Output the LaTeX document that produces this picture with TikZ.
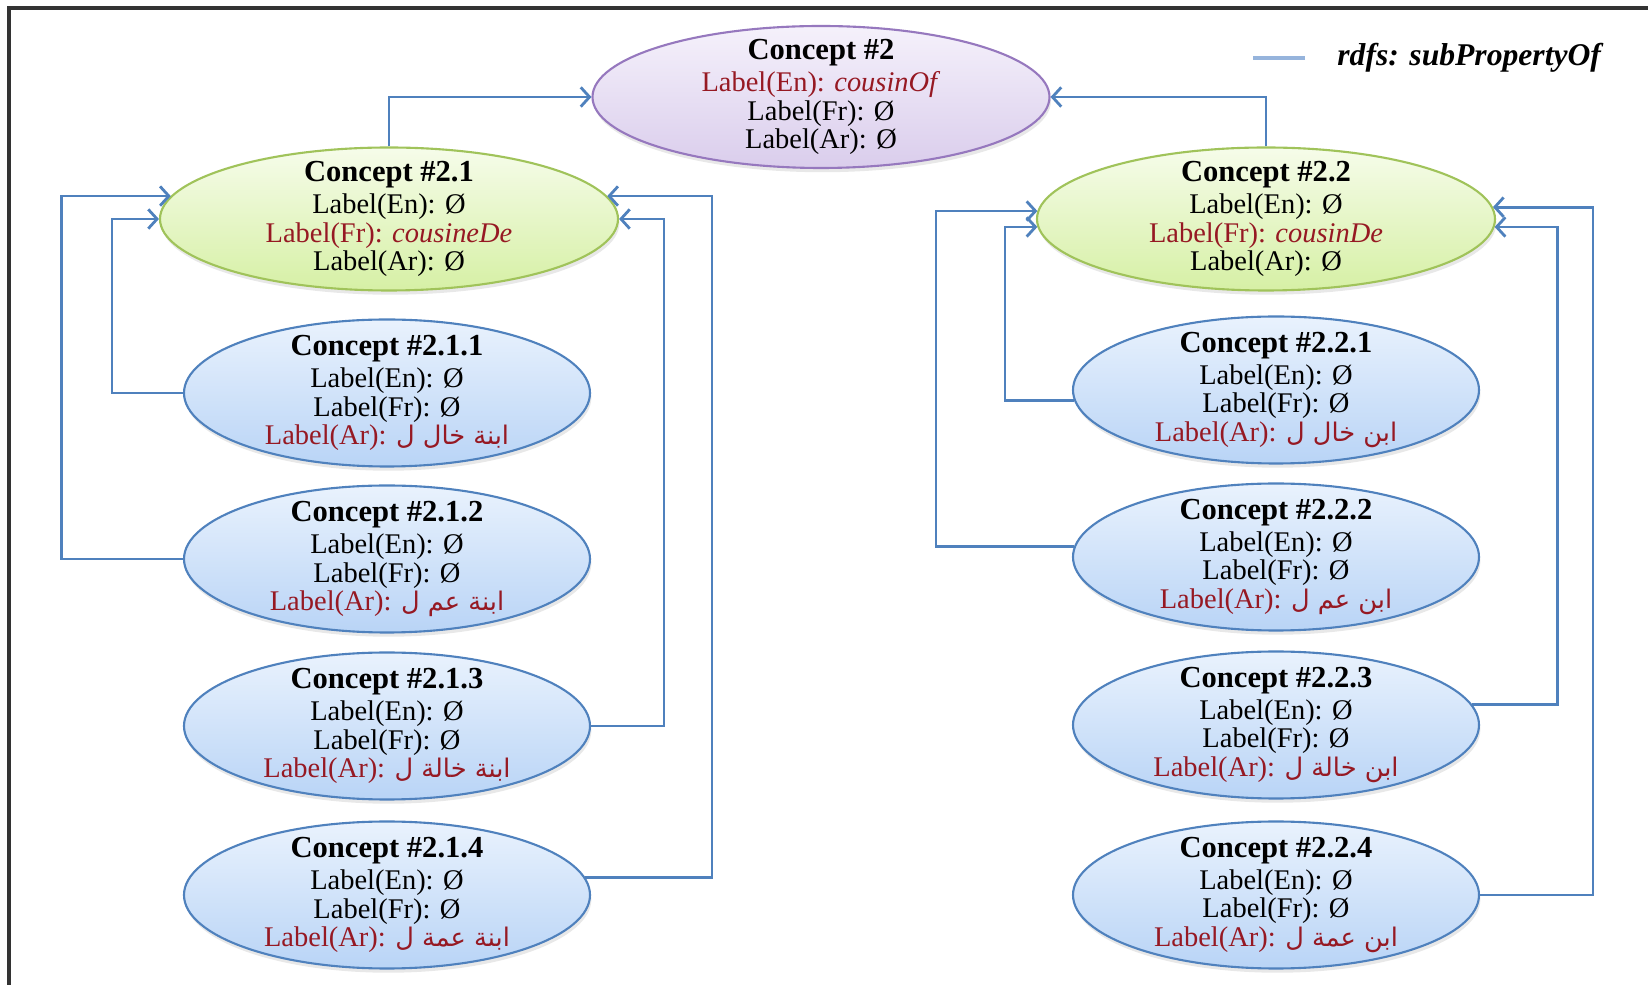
\documentclass[tikz,border=0pt]{standalone}
\usepackage{fontspec}
\setmainfont{Liberation Serif}
\newfontfamily\arabicfont[Script=Arabic]{DejaVu Sans}
\TeXXeTstate=1
\usepackage{tikz}
\usetikzlibrary{arrows.meta, shapes.geometric, shadows}
\definecolor{lblred}{RGB}{150,25,35}
\definecolor{link}{RGB}{79,129,189}
\definecolor{legendline}{RGB}{150,180,220}
\definecolor{purpline}{RGB}{150,120,190}
\definecolor{purptop}{RGB}{245,241,251}
\definecolor{purpbot}{RGB}{218,205,236}
\definecolor{greenline}{RGB}{160,195,90}
\definecolor{greentop}{RGB}{246,252,234}
\definecolor{greenbot}{RGB}{214,240,165}
\definecolor{blueline}{RGB}{79,129,189}
\definecolor{bluetop}{RGB}{233,242,253}
\definecolor{bluebot}{RGB}{185,212,246}
\newcommand{\ctitle}[1]{{\fontsize{8.7}{8.2}\selectfont\bfseries Concept \##1}}
\newcommand{\arlabel}[1]{{\color{lblred}Label(Ar): {\arabicfont\fontsize{7.3}{8.2}\selectfont\beginR #1\endR}}}

\begin{document}
\begin{tikzpicture}[
    base/.style={ellipse, line width=0.6pt, inner xsep=0pt, inner ysep=-0.4cm, align=center,
        font=\fontsize{8.1}{8.2}\selectfont,
        drop shadow={opacity=0.18, shadow xshift=0.4pt, shadow yshift=-1.2pt}},
    root/.style={base, draw=purpline, top color=purptop, bottom color=purpbot,
        minimum width=4.57cm, minimum height=1.42cm},
    mid/.style={base, draw=greenline, top color=greentop, bottom color=greenbot,
        minimum width=4.58cm, minimum height=1.43cm},
    leaf/.style={base, draw=blueline, top color=bluetop, bottom color=bluebot,
        minimum width=4.06cm, minimum height=1.47cm},
    arr/.style={draw=link, line width=0.8pt, -{Straight Barb[length=2.5pt,width=5.5pt]}}
]
    \useasboundingbox (0,0) rectangle (16.48,-9.85);
    % frame
    \draw[line width=1pt, black!80] (0.09,-9.85) -- (0.09,-0.08) -- (16.48,-0.08);

    % legend
    \node[anchor=west, font=\fontsize{9}{10}\selectfont\bfseries\itshape] (legend) at (13.25,-0.58) {rdfs: subPropertyOf};
    \draw[legendline, line width=1pt] ([xshift=-0.2cm]legend.west) -- ++(-0.52,0);

    % top concept
    \node[root] (c2) at (8.21,-0.97) {\ctitle{2}\\[0.9pt]
        {\color{lblred}Label(En): \textit{cousinOf}}\\ Label(Fr): Ø\\ Label(Ar): Ø};

    % Left: feminine
    \node[mid] (c21) at (3.89,-2.19) {\ctitle{2.1}\\[0.9pt]
        Label(En): Ø\\ {\color{lblred}Label(Fr): \textit{cousineDe}}\\ Label(Ar): Ø};
    \foreach \n/\y/\txt in {1/-3.93/{ابنة خال ل}, 2/-5.59/{ابنة عم ل}, 3/-7.26/{ابنة خالة ل}, 4/-8.95/{ابنة عمة ل}} {
        \node[leaf] (c21\n) at (3.87,\y) {\ctitle{2.1.\n}\\[0.9pt]
            Label(En): Ø\\ Label(Fr): Ø\\ \arlabel{\txt}};
    }

    % Right: masculine
    \node[mid] (c22) at (12.66,-2.19) {\ctitle{2.2}\\[0.9pt]
        Label(En): Ø\\ {\color{lblred}Label(Fr): \textit{cousinDe}}\\ Label(Ar): Ø};
    \foreach \n/\y/\txt in {1/-3.90/{ابن خال ل}, 2/-5.57/{ابن عم ل}, 3/-7.25/{ابن خالة ل}, 4/-8.95/{ابن عمة ل}} {
        \node[leaf] (c22\n) at (12.76,\y) {\ctitle{2.2.\n}\\[0.9pt]
            Label(En): Ø\\ Label(Fr): Ø\\ \arlabel{\txt}};
    }

    % subPropertyOf links
    \draw[arr] (c21.north) |- (c2.west);
    \draw[arr] (c22.north) |- (c2.east);
    \foreach \n/\from/\dx/\to in {1/west/-0.71/west, 2/west/-1.215/174, 3/east/0.73/east, 4/5/1.265/6} {
        \draw[arr] (c21\n.\from) -- ++(\dx,0) |- (c21.\to);
    }
    \foreach \n/\from/\dx/\to in {1/183/-0.69/182, 2/177/-1.38/178, 3/6/0.85/358, 4/east/1.13/3} {
        \draw[arr] (c22\n.\from) -- ++(\dx,0) |- (c22.\to);
    }
\end{tikzpicture}
\end{document}
